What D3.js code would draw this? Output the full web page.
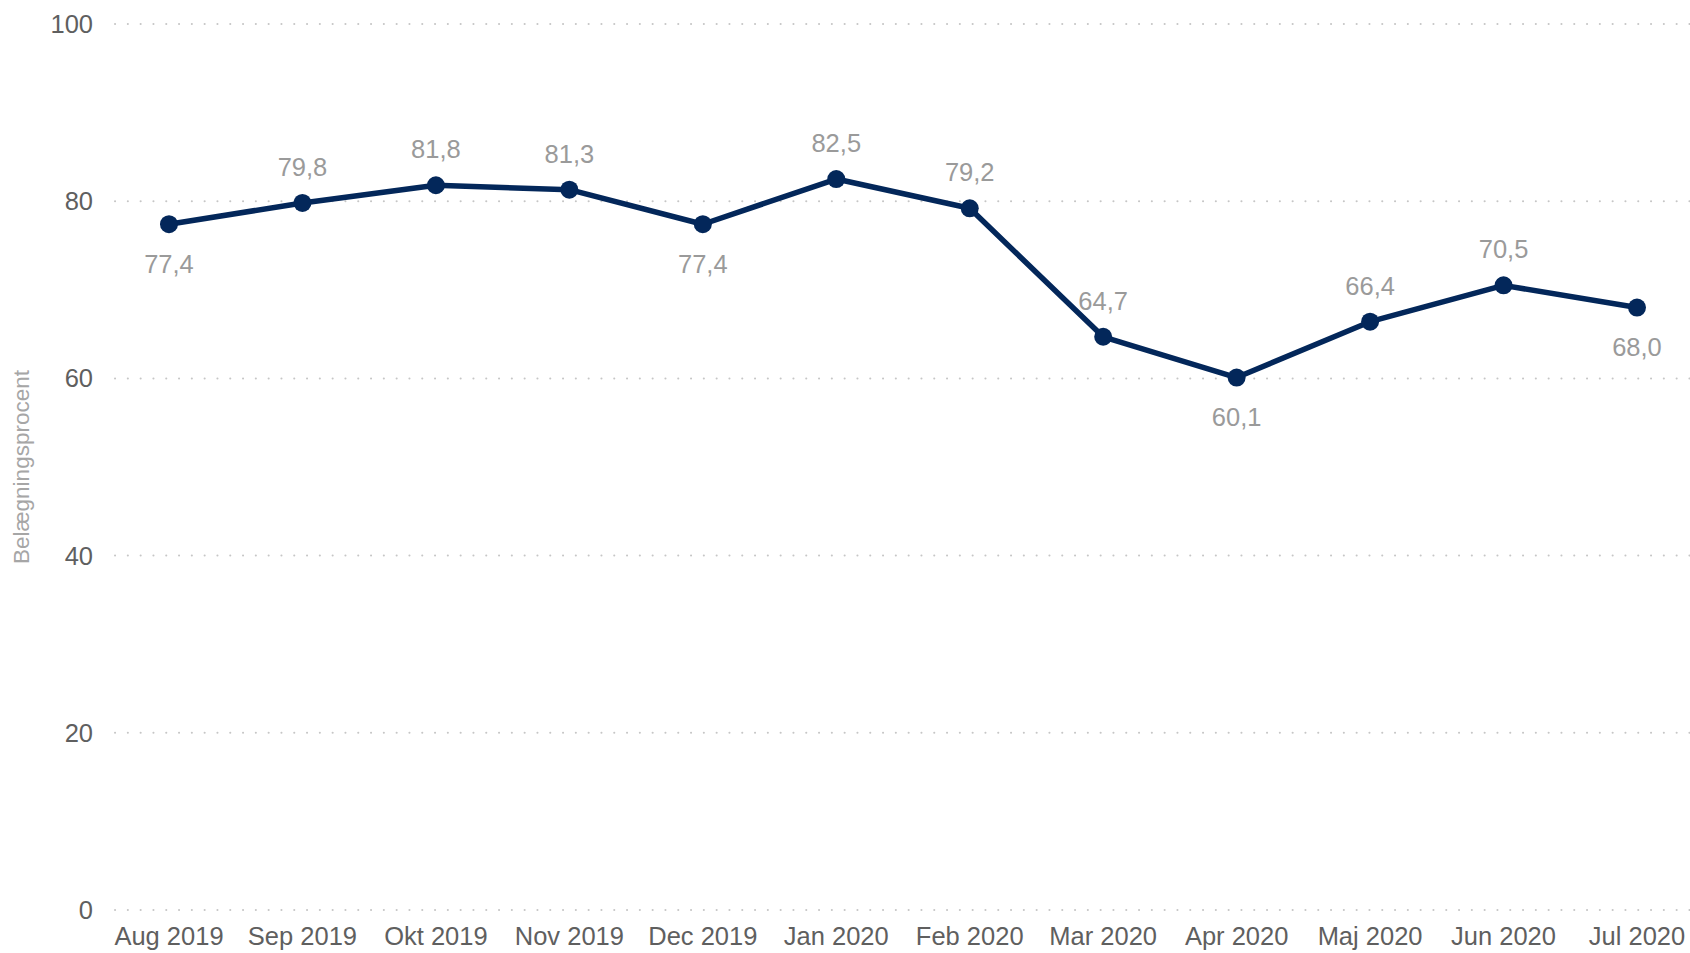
<!DOCTYPE html>
<html>
<head>
<meta charset="utf-8">
<script src="https://cdn.jsdelivr.net/npm/d3@7"></script>
<style>
  body { margin: 0; background: #fff; font-family: "Liberation Sans", Arial, sans-serif; }
  .grid line { stroke: #c6c6c6; stroke-width: 2; stroke-dasharray: 0.1 12.7; stroke-linecap: round; }
  .tick-label { fill: #5f5f5f; font-size: 25.5px; }
  .value-label { fill: #9a9a9a; font-size: 25.5px; }
</style>
</head>
<body>
<div id="chart"></div>
<script>
// Belægningsprocent pr. måned
const months = ["Aug 2019", "Sep 2019", "Okt 2019", "Nov 2019", "Dec 2019", "Jan 2020",
                "Feb 2020", "Mar 2020", "Apr 2020", "Maj 2020", "Jun 2020", "Jul 2020"];
const occupancy = [77.4, 79.8, 81.8, 81.3, 77.4, 82.5, 79.2, 64.7, 60.1, 66.4, 70.5, 68.0];
const labelBelow = [true, false, false, false, true, false, false, false, true, false, false, true];
const yTicks = [0, 20, 40, 60, 80, 100];

function createLineChart() {
    const W = 1690, H = 953;
    const svg = d3.select("#chart").append("svg")
        .attr("width", W)
        .attr("height", H);

    const gridLeft = 115, gridRight = 1690;

    const x = d3.scalePoint()
        .domain(months)
        .range([169, 1637]);

    const y = d3.scaleLinear()
        .domain([0, 100])
        .range([910, 24]);

    // gridlines
    svg.append("g")
        .attr("class", "grid")
        .selectAll("line")
        .data(yTicks)
        .enter().append("line")
        .attr("x1", gridLeft)
        .attr("x2", gridRight)
        .attr("y1", d => y(d))
        .attr("y2", d => y(d));

    // y tick labels
    svg.append("g")
        .selectAll("text")
        .data(yTicks)
        .enter().append("text")
        .attr("class", "tick-label")
        .attr("x", 93)
        .attr("y", d => y(d))
        .attr("dy", "0.35em")
        .style("text-anchor", "end")
        .text(d => d);

    // x tick labels
    svg.append("g")
        .selectAll("text")
        .data(months)
        .enter().append("text")
        .attr("class", "tick-label")
        .attr("x", d => x(d))
        .attr("y", 945)
        .style("text-anchor", "middle")
        .text(d => d);

    // y axis title
    svg.append("text")
        .attr("transform", `translate(29, ${(y(0) + y(100)) / 2}) rotate(-90)`)
        .style("text-anchor", "middle")
        .style("font-size", "22.5px")
        .style("fill", "#a6a6a6")
        .text("Belægningsprocent");

    const data = months.map((m, i) => ({ month: m, value: occupancy[i], below: labelBelow[i] }));

    const line = d3.line()
        .x(d => x(d.month))
        .y(d => y(d.value));

    svg.append("path")
        .datum(data)
        .attr("d", line)
        .style("fill", "none")
        .style("stroke", "#03275a")
        .style("stroke-width", 5.5)
        .style("stroke-linejoin", "round");

    svg.selectAll(".dot")
        .data(data)
        .enter().append("circle")
        .attr("class", "dot")
        .attr("cx", d => x(d.month))
        .attr("cy", d => y(d.value))
        .attr("r", 9)
        .style("fill", "#03275a");

    svg.selectAll(".value-label")
        .data(data)
        .enter().append("text")
        .attr("class", "value-label")
        .attr("x", d => x(d.month))
        .attr("y", d => y(d.value) + (d.below ? 40 : -36))
        .attr("dy", "0.35em")
        .style("text-anchor", "middle")
        .text(d => d.value.toFixed(1).replace(".", ","));
}

createLineChart();
</script>
</body>
</html>
